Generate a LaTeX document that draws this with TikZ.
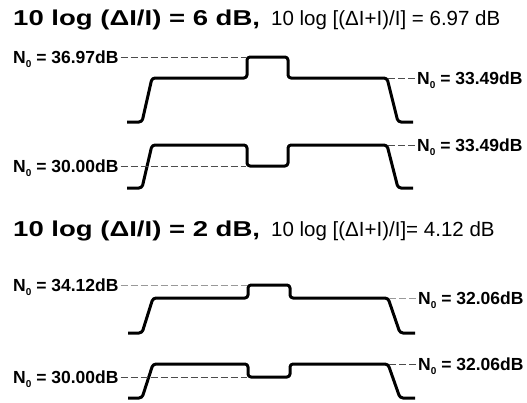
\documentclass[tikz,border=0pt]{standalone}
\usepackage{fontspec}
\setmainfont{Liberation Sans}
\newcommand\Nzero{N\raisebox{-0.45ex}{\fontsize{10}{10}\selectfont 0}}
\begin{document}
\begin{tikzpicture}[x=1pt,y=-1pt,
  pulse/.style={line width=3pt, line join=round, line cap=butt, rounded corners=3pt},
  lvl/.style={draw=black!70, line width=0.8pt, dash pattern=on 7pt off 3pt},
  lvllight/.style={lvl, draw=black!40},
  lab/.style={font=\fontsize{17.5}{18}\selectfont\bfseries, inner sep=0pt, anchor=base west},
  ttlb/.style={font=\fontsize{21.5}{24}\selectfont\bfseries, inner sep=0pt, anchor=base west},
  ttlr/.style={font=\fontsize{20.5}{24}\selectfont, inner sep=0pt, anchor=base west}]
\useasboundingbox (0,0) rectangle (527,402);

% titles
\node[ttlb] (t1b) at (13,25) {\scalebox{1.28}[1]{10 log (ΔI/I) = 6 dB,}};
\node[ttlr] (t1r) at (271,25) {10 log [(ΔI+I)/I] = 6.97 dB};
\node[ttlb] (t2b) at (13,236) {\scalebox{1.28}[1]{10 log (ΔI/I) = 2 dB,}};
\node[ttlr] (t2r) at (271,236) {10 log [(ΔI+I)/I]= 4.12 dB};

% pulse 1
\draw[pulse] (127,122) -- (142,122) -- (152,78) -- (247,78) -- (247,57) -- (288,57) -- (288,78) -- (387,78) -- (398,122) -- (413,122);
\coordinate (p1l) at (246,57);
\coordinate (p1r) at (388,78);
\node[lab] (l1) at (13,63.5) {\Nzero\ = 36.97dB};
\node[lab] (r1) at (417,84.5) {\Nzero\ = 33.49dB};
\draw[lvl] ([xshift=2pt]l1.east |- p1l) -- (p1l);
\draw[lvl] (p1r) -- ([xshift=-2pt]r1.west |- p1r);

% pulse 2
\draw[pulse] (127,188) -- (142,188) -- (152,145) -- (247,145) -- (247,166) -- (288,166) -- (288,145) -- (387,145) -- (398,188) -- (413,188);
\coordinate (p2l) at (246,166);
\coordinate (p2r) at (388,145);
\node[lab] (l2) at (13,172.5) {\Nzero\ = 30.00dB};
\node[lab] (r2) at (417,151.5) {\Nzero\ = 33.49dB};
\draw[lvl] ([xshift=2pt]l2.east |- p2l) -- (p2l);
\draw[lvl] (p2r) -- ([xshift=-2pt]r2.west |- p2r);

% pulse 3
\draw[pulse] (128,333) -- (142,333) -- (153,298) -- (248,298) -- (248,285) -- (290,285) -- (290,298) -- (388,298) -- (400,333) -- (415,333);
\coordinate (p3l) at (247,285);
\coordinate (p3r) at (389,298);
\node[lab] (l3) at (13,291.5) {\Nzero\ = 34.12dB};
\node[lab] (r3) at (418,304.5) {\Nzero\ = 32.06dB};
\draw[lvllight] ([xshift=2pt]l3.east |- p3l) -- (p3l);
\draw[lvllight] (p3r) -- ([xshift=-2pt]r3.west |- p3r);

% pulse 4
\draw[pulse] (128,398) -- (142,398) -- (153,364) -- (248,364) -- (248,377) -- (290,377) -- (290,364) -- (388,364) -- (400,398) -- (415,398);
\coordinate (p4l) at (247,377);
\coordinate (p4r) at (389,364);
\node[lab] (l4) at (13,383.5) {\Nzero\ = 30.00dB};
\node[lab] (r4) at (418,370.5) {\Nzero\ = 32.06dB};
\draw[lvl] ([xshift=2pt]l4.east |- p4l) -- (p4l);
\draw[lvl] (p4r) -- ([xshift=-2pt]r4.west |- p4r);
\end{tikzpicture}
\end{document}
